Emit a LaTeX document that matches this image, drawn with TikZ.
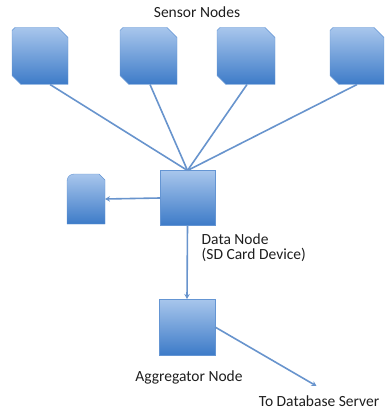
\documentclass[tikz,border=0pt]{standalone}
\usepackage{fontspec}
\setmainfont{Carlito}
\usetikzlibrary{calc,arrows.meta}
\definecolor{boxtop}{HTML}{A8C6EC}
\definecolor{boxbot}{HTML}{3D7BC8}
\definecolor{linec}{HTML}{6894CD}
\definecolor{txt}{HTML}{1E1E1E}
\newcommand{\sensorshape}[1]{%
  \shade[boxshade] ([yshift=-3pt]#1.north west) -- ([xshift=3pt]#1.north west) -- ($(#1.north east)+(-10,0)$) -- ($(#1.north east)+(0,10)$)
   -- (#1.south east) -- ($(#1.south west)+(9,0)$) -- ($(#1.south west)+(0,-9)$) -- cycle;}
\begin{document}
\begin{tikzpicture}[x=1pt,y=-1pt,
  boxshade/.style={top color=boxtop, bottom color=boxbot, draw=boxbot!80, line width=0.4pt},
  anchorbox/.style={rectangle, inner sep=0pt, outer sep=0pt},
  plainbox/.style={anchorbox, boxshade, minimum width=55pt, minimum height=55pt},
  conn/.style={draw=linec, line width=1.6pt},
  arr/.style={conn, -{Stealth[length=5pt,width=5.5pt]}},
  lbl/.style={font=\fontsize{15.5}{15}\selectfont, text=txt, inner sep=0pt}]
\useasboundingbox (0,0) rectangle (384,409);
\node[lbl, anchor=base] (title) at (197,17.5) {Sensor Nodes};
\node[anchorbox, minimum width=56pt, minimum height=57pt] (s1) at (40,56) {};
\node[anchorbox, minimum width=57pt, minimum height=57pt] (s2) at (148.5,56) {};
\node[anchorbox, minimum width=58pt, minimum height=57pt] (s3) at (246,56) {};
\node[anchorbox, minimum width=54pt, minimum height=57pt] (s4) at (357,56) {};
\sensorshape{s1}
\sensorshape{s2}
\sensorshape{s3}
\sensorshape{s4}
\node[plainbox] (d) at (187.5,198) {};
\node[plainbox, minimum width=56pt, minimum height=56pt] (a) at (187,327) {};
\node[anchorbox, minimum width=38pt, minimum height=50pt] (sd) at (86,199) {};
\shade[boxshade]
  (sd.south west) -- ($(sd.north west)+(0,7)$) arc[start angle=180, end angle=270, radius=7] -- ($(sd.north east)+(-6,0)$)
  -- ($(sd.north east)+(0,6)$) -- (sd.south east) -- cycle;
\coordinate (dbend) at (316.5,386);
\draw[conn] ($(s1.south)+(10,0)$) -- (d.north);
\draw[conn] ($(s2.south)+(1.5,0)$) -- (d.north);
\draw[conn] ($(s3.south)+(1,0)$) -- (d.north);
\draw[conn] (s4.south) -- (d.north);
\draw[arr] (d.west) -- (sd.east);
\draw[arr] (d.south) -- (a.north);
\draw[arr] (a.east) -- (dbend);
\node[lbl, anchor=base west, align=left] (dl) at (201.5,259.3) {Data Node\\(SD Card Device)};
\node[lbl, anchor=base] (al) at (189,381) {Aggregator Node};
\node[lbl, anchor=base] (dbl) at (319,406) {To Database Server};
\end{tikzpicture}
\end{document}
